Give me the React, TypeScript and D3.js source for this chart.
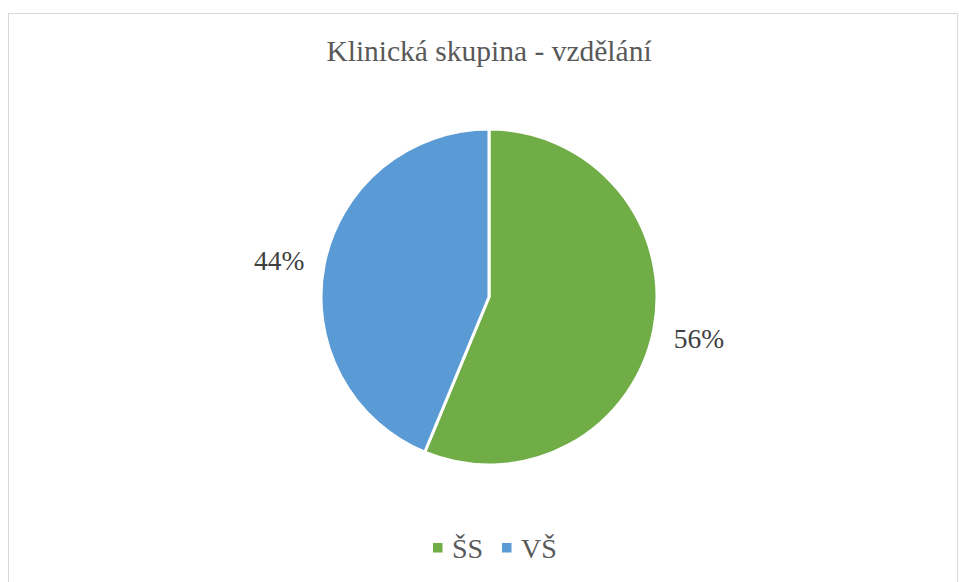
import { arc, pie, PieArcDatum } from 'd3'

const title = 'Klinická skupina - vzdělání'
const categories = ['ŠS', 'VŠ']
const counts = [9, 7]
const colors = ['#70AD47', '#5B9BD5']

const width = 959
const height = 582
const cx = 489
const cy = 297
const radius = 168
const serif = 'Liberation Serif'

export default function App() {
  const total = counts.reduce((sum, value) => sum + value, 0)
  const slices = pie<number>()
    .sort(null)
    .value(value => value)(counts)

  const sliceArc = arc<PieArcDatum<number>>().innerRadius(0).outerRadius(radius)
  const labelArc = arc<PieArcDatum<number>>().innerRadius(214).outerRadius(214)

  return (
    <div style={{ position: 'absolute', left: 0, top: 0, fontFamily: `"${serif}"` }}>
      <svg width={width} height={height} style={{ display: 'block' }}>
        <rect x={0} y={0} width={width} height={height} fill="#fff" />
        <rect x={8.5} y={13.5} width={949} height={600} fill="#fff" stroke="#d9d9d9" strokeWidth={1} />
        <text x={cx} y={61} textAnchor="middle" fontSize={29.5} fill="#595959" fontFamily={serif}>
          {title}
        </text>
        <g transform={`translate(${cx},${cy})`}>
          {slices.map((slice, i) => (
            <path key={categories[i]} d={sliceArc(slice) ?? ''} fill={colors[i]} stroke="#fff" strokeWidth={3} strokeLinejoin="round" />
          ))}
          {slices.map((slice, i) => {
            const [x, y] = labelArc.centroid(slice)
            return (
              <text key={categories[i]} x={x} y={y} dy={y < 0 ? '0.52em' : '0.35em'} textAnchor="middle" fontSize={27.5} fill="#404040" fontFamily={serif}>
                {`${Math.round((counts[i] / total) * 100)}%`}
              </text>
            )
          })}
        </g>
        <g transform="translate(433, 548)">
          {categories.map((category, i) => (
            <g key={category} transform={`translate(${i * 69}, 0)`}>
              <rect x={0} y={-5} width={9.5} height={9.5} fill={colors[i]} />
              <text x={19} y={10} fontSize={28} fill="#595959" fontFamily={serif}>
                {category}
              </text>
            </g>
          ))}
        </g>
      </svg>
    </div>
  )
}
